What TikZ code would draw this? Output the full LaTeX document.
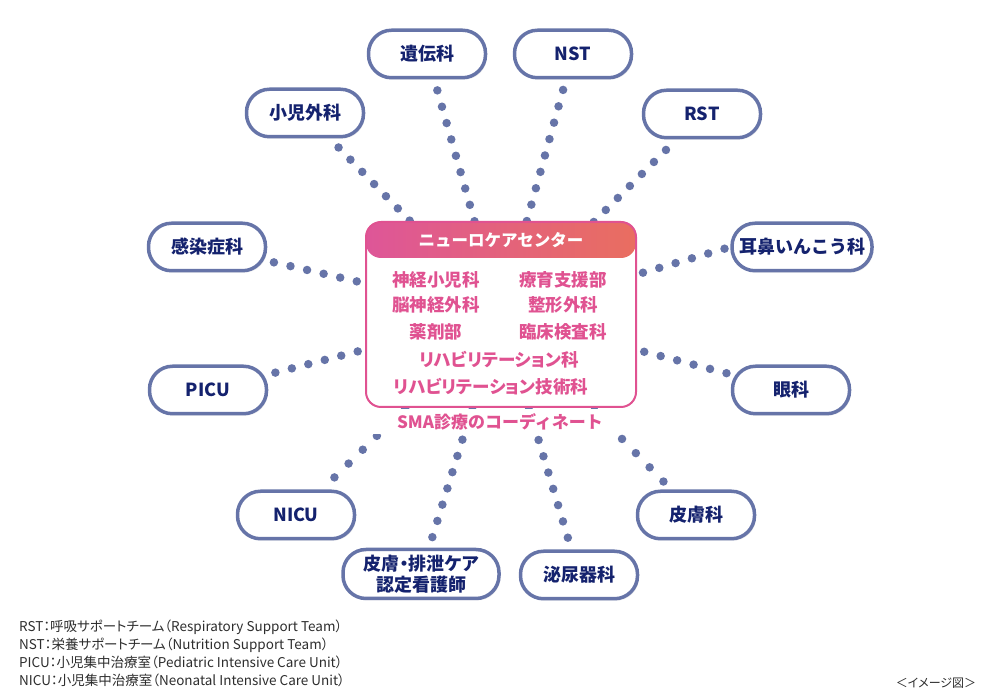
\documentclass[tikz,border=0pt]{standalone}
\usepackage{fontspec}
\newfontfamily\jpfont{Noto Sans CJK JP}
\newfontfamily\jppalt[RawFeature=+palt]{Noto Sans CJK JP}
\usetikzlibrary{calc,shadows}
\pgfdeclarelayer{background}
\pgfsetlayers{background,main}
\definecolor{deptline}{RGB}{102,116,168}
\definecolor{deptink}{RGB}{20,34,110}
\definecolor{neuropink}{RGB}{224,82,145}
\definecolor{headpink}{RGB}{222,86,152}
\definecolor{headcoral}{RGB}{233,110,96}
\definecolor{notegray}{RGB}{45,45,45}
\tikzset{
  dept/.style     = {draw=deptline, line width=3.5pt, fill=white, rounded corners=23pt,
                     minimum width=117pt, minimum height=47.5pt, inner sep=2pt,
                     text=deptink, align=center,
                     font=\jpfont\bfseries\fontsize{18}{21}\selectfont,
                     drop shadow={opacity=0.12, shadow xshift=1.5pt, shadow yshift=-2pt}},
  neurobox/.style = {draw=neuropink, line width=2pt, fill=white, rounded corners=15pt,
                     minimum width=270pt, minimum height=185pt,
                     path picture={\shade[left color=headpink, right color=headcoral]
                       (path picture bounding box.north west) rectangle
                       ([yshift=-36pt]path picture bounding box.north east);}},
  member/.style   = {text=neuropink, inner sep=0pt,
                     font=\jpfont\bfseries\fontsize{17.5}{20}\selectfont},
  dotline/.style  = {deptline, line width=8.5pt, line cap=round, dash pattern=on 0pt off #1},
  dotline/.default = 17pt
}

\begin{document}
\begin{tikzpicture}[x=1pt, y=1pt]
  \useasboundingbox (0,0) rectangle (1000,700);

  % centre
  \node[neurobox] (neuro) at (501,385.5) {};
  \node[member, text=white, font=\jpfont\bfseries\fontsize{16.5}{20}\selectfont]
    (title) at (501,460) {ニューロケアセンター};
  \node[member] (m1) at (436,420) {神経小児科};
  \node[member] (m2) at (563,420) {療育支援部};
  \node[member] (m3) at (436,395) {脳神経外科};
  \node[member] (m4) at (563,395) {整形外科};
  \node[member] (m5) at (436,368) {薬剤部};
  \node[member] (m6) at (563,368) {臨床検査科};
  \node[member, font=\jppalt\bfseries\fontsize{17.5}{20}\selectfont] (m7) at (499,340) {リハビリテーション科};
  \node[member, font=\jppalt\bfseries\fontsize{17.5}{20}\selectfont] (m8) at (491,313) {リハビリテーション技術科};
  \node[member, fill=white, minimum width=290pt, minimum height=25pt,
        font=\jpfont\bfseries\fontsize{17}{20}\selectfont]
    (coord) at (500,278) {SMA診療のコーディネート};

  % departments
  \node[dept] (gen)  at (427,646) {遺伝科};
  \node[dept] (nst)  at (573,646) {NST};
  \node[dept] (ped)  at (305,587) {小児外科};
  \node[dept] (rst)  at (702,586) {RST};
  \node[dept] (inf)  at (207,453) {感染症科};
  \node[dept, minimum width=140pt] (ent) at (802,453) {耳鼻いんこう科};
  \node[dept] (picu) at (208,310) {PICU};
  \node[dept] (eye)  at (791,310) {眼科};
  \node[dept] (nicu) at (296,185) {NICU};
  \node[dept] (derm) at (696,185) {皮膚科};
  \node[dept, minimum width=156pt, minimum height=49pt,
        font=\jppalt\bfseries\fontsize{18}{21}\selectfont] (wocn) at (421,126) {皮膚・排泄ケア\\認定看護師};
  \node[dept] (uro)  at (579,125) {泌尿器科};

  \begin{pgfonlayer}{background}
    \foreach \n/\gap in {gen.center/17pt, nst.center/17pt, ped.center/17pt, rst.center/17pt,
                         inf.center/17pt, ent.west/17pt, picu.center/17pt, eye.center/17pt,
                         nicu.center/19.8pt, derm.center/19.8pt, wocn.center/17pt, uro.center/17pt}
      \draw[dotline=\gap] ($(neuro.center)!233pt!(\n)$) -- (neuro.center);
  \end{pgfonlayer}

  % notes
  \node[anchor=north west, align=left, inner sep=0pt, text=notegray,
        font=\jppalt\fontsize{13.5}{18}\selectfont] (notes) at (19,80)
    {RST：呼吸サポートチーム（Respiratory Support Team）\\
     NST：栄養サポートチーム（Nutrition Support Team）\\
     PICU：小児集中治療室（Pediatric Intensive Care Unit）\\
     NICU：小児集中治療室（Neonatal Intensive Care Unit）};
  \node[text=notegray, inner sep=0pt, font=\jppalt\fontsize{12}{14}\selectfont]
    (image) at (936,17) {＜イメージ図＞};
\end{tikzpicture}
\end{document}
